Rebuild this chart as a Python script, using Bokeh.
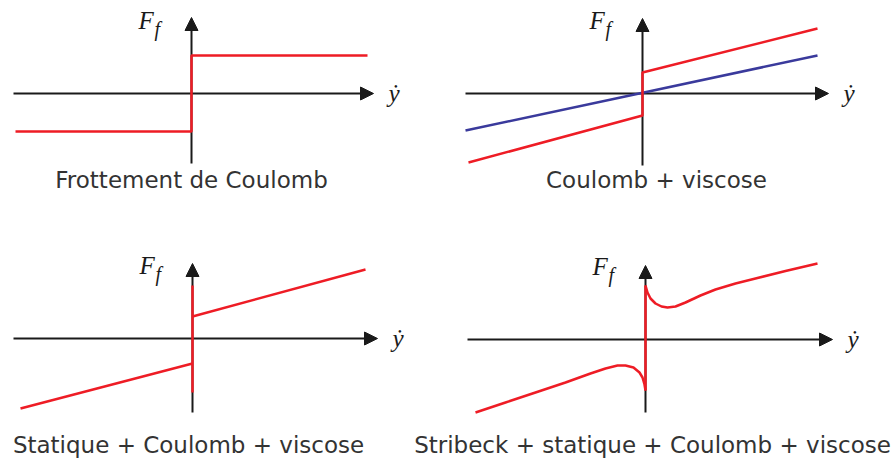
from bokeh.plotting import figure
from bokeh.models import Range1d, Arrow, NormalHead, Label
from bokeh.layouts import column, row
from bokeh.embed import file_html
from bokeh.resources import INLINE

# ---------------- data (velocity v, friction force F) ----------------
# Panel 1: Coulomb friction
coul_v = [-1.76, 0.0, 0.0, 1.76]
coul_F = [-0.38, -0.38, 0.38, 0.38]

# Panel 2: Coulomb + viscous (red) and pure viscous (blue)
cv_v = [-1.74, 0.0, 0.0, 1.75]
cv_F = [-0.69, -0.22, 0.21, 0.65]
visc_v = [-1.77, 1.75]
visc_F = [-0.37, 0.38]

# Panel 3: static + Coulomb + viscous
scv_neg_v = [-1.72, 0.0]
scv_neg_F = [-0.70, -0.25]
scv_pos_v = [0.0, 1.73]
scv_pos_F = [0.22, 0.69]
static_v = [0.0, 0.0]
static_F = [-0.54, 0.53]

# Panel 4: Stribeck + static + Coulomb + viscous
strib_pos_v = [0.0, 0.02, 0.05, 0.10, 0.16, 0.22, 0.30, 0.40, 0.55, 0.70, 0.90, 1.10, 1.40, 1.72]
strib_pos_F = [0.54, 0.47, 0.41, 0.36, 0.33, 0.32, 0.33, 0.37, 0.44, 0.50, 0.56, 0.61, 0.685, 0.76]
strib_neg_v = [-1.70, -1.40, -1.10, -0.80, -0.55, -0.40, -0.28, -0.20, -0.12, -0.06, -0.03, -0.01, 0.0]
strib_neg_F = [-0.73, -0.63, -0.53, -0.43, -0.34, -0.29, -0.26, -0.26, -0.28, -0.33, -0.38, -0.45, -0.51]
strib_static_F = [-0.51, 0.54]

captions = ["Frottement de Coulomb", "Coulomb + viscose",
            "Statique + Coulomb + viscose", "Stribeck + statique + Coulomb + viscose"]
y_label = "F"
y_sub = "f"
x_label = "\u1e8f"

RED = "#ee1c25"
BLUE = "#3a3a9c"
AXC = "#1a1a1a"
TXT = "#333333"
LIFT = 0.08  # compensates the renderer's baseline offset


def make_panel(width, height, ox, oy, xaxis, yaxis, cap_x, cap_y, caption):
    # ox, oy: origin position in pixels inside the panel; 100 px per unit
    sx = 100.0
    p = figure(width=width, height=height,
               x_range=Range1d(-ox / sx, (width - ox) / sx),
               y_range=Range1d(-(height - oy) / sx, oy / sx),
               output_backend="svg", toolbar_location=None,
               x_axis_location=None, y_axis_location=None,
               min_border=0, outline_line_color=None,
               background_fill_color="white", border_fill_color="white")
    p.grid.grid_line_color = None
    # axes with arrow heads (drawn beneath the curves)
    p.add_layout(Arrow(x_start=xaxis[0], y_start=0, x_end=xaxis[1], y_end=0,
                       line_color=AXC, line_width=2, level="underlay",
                       end=NormalHead(size=13, fill_color=AXC, line_color=AXC)))
    p.add_layout(Arrow(x_start=0, y_start=yaxis[0], x_end=0, y_end=yaxis[1],
                       line_color=AXC, line_width=2, level="underlay",
                       end=NormalHead(size=13, fill_color=AXC, line_color=AXC)))
    # axis names
    p.add_layout(Label(x=-0.53, y=0.65 + LIFT, text=y_label, text_font="Liberation Serif",
                       text_font_style="italic", text_font_size="25px",
                       text_color=AXC, text_baseline="alphabetic"))
    p.add_layout(Label(x=-0.37, y=0.57 + LIFT, text=y_sub, text_font="Liberation Serif",
                       text_font_style="italic", text_font_size="20px",
                       text_color=AXC, text_baseline="alphabetic"))
    p.add_layout(Label(x=xaxis[1] + 0.15, y=-0.08 + LIFT, text=x_label,
                       text_font="Liberation Serif",
                       text_font_style="italic", text_font_size="25px",
                       text_color=AXC, text_baseline="alphabetic"))
    p.add_layout(Label(x=cap_x, y=cap_y + LIFT, text=caption, text_font="DejaVu Sans",
                       text_font_size="23px", text_color=TXT,
                       text_align="center", text_baseline="alphabetic"))
    return p


LW = 410  # left column width
RW = 482  # right column width

p1 = make_panel(LW, 230, 191, 93, (-1.78, 1.82), (-0.70, 0.76), 0.0, -0.94, captions[0])
p1.line(coul_v, coul_F, line_color=RED, line_width=2.5)

p2 = make_panel(RW, 230, 642 - LW, 93, (-1.77, 1.86), (-0.72, 0.75), 0.14, -0.94, captions[1])
p2.line(visc_v, visc_F, line_color=BLUE, line_width=2.5)
p2.line(cv_v, cv_F, line_color=RED, line_width=2.5)

p3 = make_panel(LW, 231, 192, 108, (-1.79, 1.85), (-0.74, 0.75), -0.04, -1.14, captions[2])
p3.line(scv_neg_v, scv_neg_F, line_color=RED, line_width=2.5)
p3.line(scv_pos_v, scv_pos_F, line_color=RED, line_width=2.5)
p3.line(static_v, static_F, line_color=RED, line_width=2.5)

p4 = make_panel(RW, 231, 645 - LW, 109, (-1.78, 1.87), (-0.73, 0.74), 0.07, -1.13, captions[3])
p4.line(strib_neg_v, strib_neg_F, line_color=RED, line_width=2.5)
p4.line(strib_pos_v, strib_pos_F, line_color=RED, line_width=2.5)
p4.line(static_v, strib_static_F, line_color=RED, line_width=2.5)

layout = column(row(p1, p2), row(p3, p4))
open("out.html", "w").write(file_html(layout, INLINE))
